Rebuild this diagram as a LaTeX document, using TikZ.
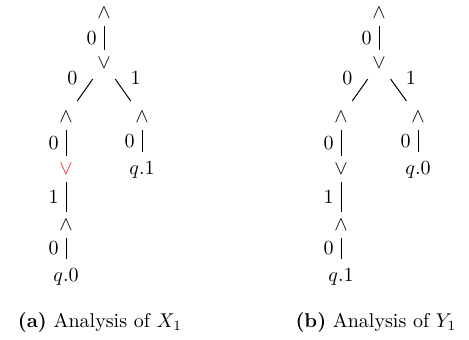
\documentclass[tikz,border=0pt]{standalone}
\usepackage{amsmath, amssymb}
\usepackage{xcolor}
\usepackage{tikz}
\usetikzlibrary{positioning, calc}
\definecolor{Hit}{HTML}{E8262B}

\begin{document}
\begin{tikzpicture}[
      x=0.5pt, y=-0.5pt,
      font=\normalsize,
      op/.style={inner sep=1pt},
      opHit/.style={op, text=Hit},
      leaf/.style={inner sep=1pt, outer sep=1.5pt},
      arc/.style={line width=0.5pt, shorten <=2.5pt, shorten >=2.5pt},
      branch/.style={arc, shorten <=5pt, shorten >=5pt},
      lab/.style={font=\normalsize, inner sep=3.5pt},
      capt/.style={font=\normalsize}
    ]
      \useasboundingbox (0,0) rectangle (469,339);
      % (a) tree for X_1
      \node[op]     (a0) at (104,13)  {$\wedge$};
      \node[op]     (a1) at (104,63)  {$\vee$};
      \node[op]     (a2) at (66,117)  {$\wedge$};
      \node[op]     (a3) at (142,117) {$\wedge$};
      \node[opHit]  (a4) at (66,169)  {$\vee$};
      \node[op]     (a5) at (66,225)  {$\wedge$};
      \node[leaf]   (a6) at (66,277)  {$q.0$};
      \node[leaf]   (a7) at (142,170) {$q.1$};
      \draw[arc] (a0) -- node[lab, left] {0} (a1);
      \draw[branch] (a1) -- node[lab, at start, xshift=-13pt, yshift=-3.5pt] {0} (a2);
      \draw[branch] (a1) -- node[lab, at start, xshift=13pt, yshift=-3.5pt] {1} (a3);
      \draw[arc] (a2) -- node[lab, left] {0} (a4);
      \draw[arc] (a4) -- node[lab, left] {1} (a5);
      \draw[arc] (a5) -- node[lab, left] {0} (a6);
      \draw[arc] (a3) -- node[lab, left] {0} (a7);
      \node[capt] (capA) at (100,322) {\textbf{(a)} Analysis of $X_1$};
      % (b) tree for Y_1
      \node[op]     (b0) at (379,13)  {$\wedge$};
      \node[op]     (b1) at (379,63)  {$\vee$};
      \node[op]     (b2) at (341,117) {$\wedge$};
      \node[op]     (b3) at (418,117) {$\wedge$};
      \node[op]     (b4) at (341,169) {$\vee$};
      \node[op]     (b5) at (341,225) {$\wedge$};
      \node[leaf]   (b6) at (341,277) {$q.1$};
      \node[leaf]   (b7) at (418,170) {$q.0$};
      \draw[arc] (b0) -- node[lab, left] {0} (b1);
      \draw[branch] (b1) -- node[lab, at start, xshift=-13pt, yshift=-3.5pt] {0} (b2);
      \draw[branch] (b1) -- node[lab, at start, xshift=13pt, yshift=-3.5pt] {1} (b3);
      \draw[arc] (b2) -- node[lab, left] {0} (b4);
      \draw[arc] (b4) -- node[lab, left] {1} (b5);
      \draw[arc] (b5) -- node[lab, left] {0} (b6);
      \draw[arc] (b3) -- node[lab, left] {0} (b7);
      \node[capt] (capB) at (376,322) {\textbf{(b)} Analysis of $Y_1$};
    \end{tikzpicture}
\end{document}
